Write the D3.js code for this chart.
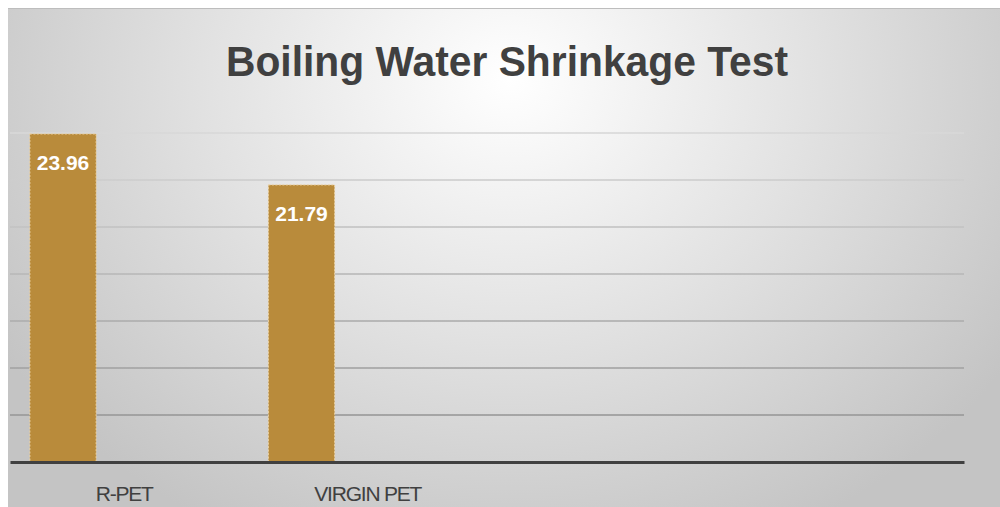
<!DOCTYPE html>
<html>
<head>
<meta charset="utf-8">
<script src="https://cdn.jsdelivr.net/npm/d3@7"></script>
<style>
	html, body { margin: 0; padding: 0; background: #fff; }
	.c-svg { width: 1000px; height: 507px; }
	text { font-family: "Liberation Sans", Arial, Helvetica, sans-serif; }
</style>
</head>
<body>
<div class="c-svg"></div>
<script>
//DATA
//-------------------------------------------------------------------------
const categories = ["R-PET", "VIRGIN PET", "", ""];
const seriesNames = ["Series 1", "Series 2", "Series 3"];
const shrinkage = [23.96, 21.79]; //only the first series has values
const yTicks = [10, 12, 14, 16, 18, 20, 22, 24];
const chartTitle = "Boiling Water Shrinkage Test";

//OPTS
//-------------------------------------------------------------------------
const opts = {
	width: 1000,
	height: 507,
	frame: { left: 8, top: 8 },
	plot: { left: 10, right: 964, top: 133, bottom: 462 }
};

const svg = d3.select(".c-svg")
	.append("svg")
	.attr("width", opts.width)
	.attr("height", opts.height);

const defs = svg.append("defs");

//background gradient, light at top centre
const bg = defs.append("radialGradient")
	.attr("id", "bg")
	.attr("gradientUnits", "userSpaceOnUse")
	.attr("cx", 510).attr("cy", 80)
	.attr("r", 600)
	.attr("gradientTransform", "translate(510 80) scale(1 0.85) translate(-510 -80)");
bg.append("stop").attr("offset", 0).attr("stop-color", "#ffffff");
bg.append("stop").attr("offset", 0.5).attr("stop-color", "#e2e2e2");
bg.append("stop").attr("offset", 1).attr("stop-color", "#c4c4c4");

//gridlines fade toward the top
const gridGrad = defs.append("linearGradient")
	.attr("id", "grid")
	.attr("gradientUnits", "userSpaceOnUse")
	.attr("x1", 0).attr("y1", opts.plot.top)
	.attr("x2", 0).attr("y2", opts.plot.bottom);
gridGrad.append("stop").attr("offset", 0).attr("stop-color", "#d8d8d8");
gridGrad.append("stop").attr("offset", 1).attr("stop-color", "#8e8e8e");

//frame
svg.append("rect")
	.attr("x", opts.frame.left)
	.attr("y", opts.frame.top)
	.attr("width", opts.width - opts.frame.left)
	.attr("height", opts.height - opts.frame.top)
	.attr("fill", "url(#bg)");

svg.append("line")
	.attr("x1", opts.frame.left).attr("x2", opts.width)
	.attr("y1", opts.frame.top + 0.5).attr("y2", opts.frame.top + 0.5)
	.attr("stroke", "#bdbdbd");

//TITLE
//-------------------------------------------------------------------------
svg.append("text")
	.attr("x", 507)
	.attr("y", 75.5)
	.attr("text-anchor", "middle")
	.attr("font-size", 43)
	.attr("font-weight", "bold")
	.attr("fill", "#404040")
	.attr("textLength", 562)
	.attr("lengthAdjust", "spacingAndGlyphs")
	.text(chartTitle);

//SCALES
//-------------------------------------------------------------------------
const x = d3.scaleBand()
	.domain(d3.range(categories.length))
	.range([opts.plot.left, opts.plot.right])
	.padding(0);

const xSeries = d3.scaleBand()
	.domain(seriesNames)
	.range([0, x.bandwidth()])
	.paddingInner(0)
	.paddingOuter(0.3);

const y = d3.scaleLinear()
	.domain([d3.min(yTicks), d3.max(yTicks)])
	.range([opts.plot.bottom, opts.plot.top]);

//GRID
//-------------------------------------------------------------------------
//drawn as thin rects so the userSpace gradient applies (lines have a flat bbox)
const grid = svg.append("g")
	.attr("class", "grid")
	.attr("transform", `translate(${opts.plot.left} 0)`);

grid.selectAll("rect")
	.data(yTicks.slice(1))
	.join("rect")
	.attr("x", 0)
	.attr("y", d => y(d) - 0.8)
	.attr("width", opts.plot.right - opts.plot.left)
	.attr("height", 1.6)
	.attr("fill", "url(#grid)");

//BARS
//-------------------------------------------------------------------------
const bars = svg.append("g").attr("class", "bars");

bars.selectAll("rect")
	.data(shrinkage)
	.join("rect")
	.attr("x", (d, i) => x(i) + xSeries(seriesNames[0]))
	.attr("y", d => y(d))
	.attr("width", xSeries.bandwidth())
	.attr("height", d => y(y.domain()[0]) - y(d))
	.attr("fill", "#b98b3b")
	.attr("stroke", "#ecd3a4")
	.attr("stroke-width", 1)
	.attr("stroke-dasharray", "2,1.5");

bars.selectAll("text")
	.data(shrinkage)
	.join("text")
	.attr("x", (d, i) => x(i) + xSeries(seriesNames[0]) + xSeries.bandwidth() / 2)
	.attr("y", d => y(d) + 36)
	.attr("text-anchor", "middle")
	.attr("font-size", 21)
	.attr("font-weight", "bold")
	.attr("fill", "#ffffff")
	.text(d => d.toFixed(2));

//X AXIS
//-------------------------------------------------------------------------
const xAxis = d3.axisBottom(x)
	.tickSize(0)
	.tickPadding(0)
	.tickFormat(i => categories[i]);

const gx = svg.append("g")
	.attr("class", "axis x_axis")
	.attr("transform", `translate(0 ${opts.plot.bottom})`)
	.call(xAxis);

gx.select(".domain")
	.attr("stroke", "#404040")
	.attr("stroke-width", 3);

gx.selectAll(".tick")
	.filter(i => i === 0)
	.attr("transform", `translate(${x(0) + x.bandwidth() / 2 - 5} 0)`);

gx.selectAll("text")
	.attr("y", 39)
	.attr("dy", 0)
	.attr("font-size", 21)
	.attr("fill", "#404040")
	.attr("font-family", "\"Liberation Sans\", Arial, sans-serif")
	.attr("letter-spacing", -1.2);
</script>
</body>
</html>
